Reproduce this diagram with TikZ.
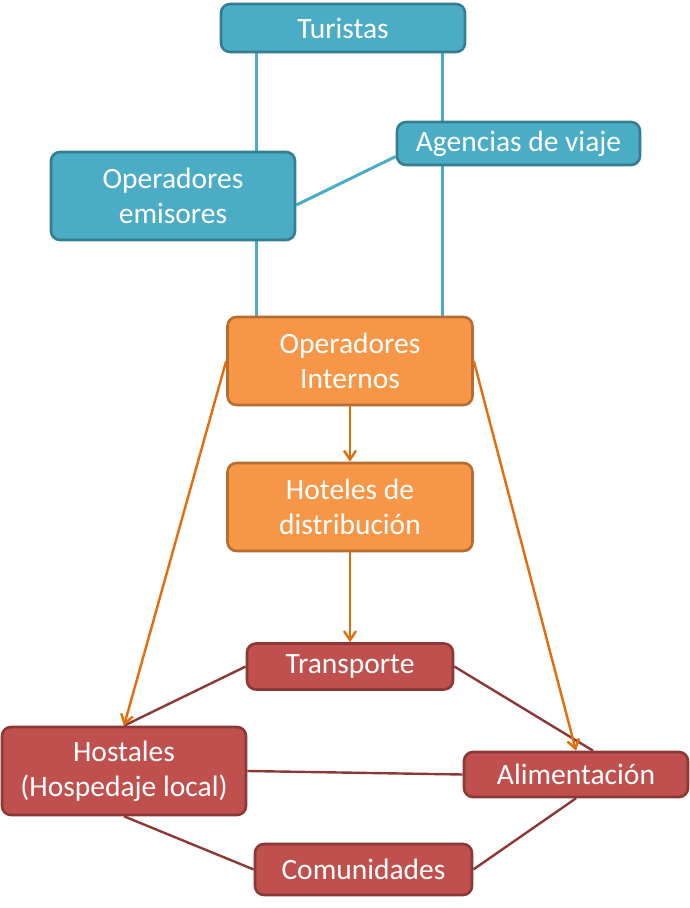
\documentclass[tikz,border=0pt]{standalone}
\usepackage{fontspec}
\setmainfont{Carlito}
\usetikzlibrary{arrows.meta,backgrounds,calc}
\definecolor{bfill}{HTML}{4BACC6}
\definecolor{bline}{HTML}{357D91}
\definecolor{ofill}{HTML}{F79646}
\definecolor{oline}{HTML}{B66D31}
\definecolor{rfill}{HTML}{C0504D}
\definecolor{rline}{HTML}{8C3836}
\definecolor{oarrow}{HTML}{E46C0A}
\definecolor{rconn}{HTML}{8C3836}
\tikzset{
  box/.style={rounded corners=9pt, line width=2.6pt, inner sep=0pt, align=center,
    text=white, font=\fontsize{29.5}{35}\selectfont},
  bluebox/.style={box, fill=bfill, draw=bline},
  orangebox/.style={box, fill=ofill, draw=oline},
  redbox/.style={box, fill=rfill, draw=rline},
  bconn/.style={draw=bfill, line width=3pt},
  oconn/.style={draw=oarrow, line width=2.4pt, -{Straight Barb[length=9pt,width=12pt,line width=2.4pt]}},
  rconnst/.style={draw=rconn, line width=2.4pt},
}
\begin{document}
\begin{tikzpicture}[x=1pt,y=-1pt]
\useasboundingbox (0,0) rectangle (689,908);
\node[bluebox, minimum width=244pt, minimum height=48pt] (turistas) at (343,28) {Turistas};
\node[bluebox, minimum width=243pt, minimum height=43pt] (agencias) at (518.5,143.5) {Agencias de viaje};
\node[bluebox, minimum width=244pt, minimum height=88pt] (emisores) at (173,196) {Operadores\\emisores};
\node[orangebox, minimum width=245pt, minimum height=88pt] (internos) at (350,361) {Operadores\\Internos};
\node[orangebox, minimum width=245pt, minimum height=88pt] (hoteles) at (350,507) {Hoteles de\\distribución};
\node[redbox, minimum width=206pt, minimum height=46pt] (transporte) at (350,666.5) {Transporte};
\node[redbox, minimum width=244pt, minimum height=88pt] (hostales) at (124,771) {Hostales\\(Hospedaje local)};
\node[redbox, minimum width=224pt, minimum height=45pt] (alim) at (576,774.5) {Alimentación};
\node[redbox, minimum width=217pt, minimum height=51pt] (comun) at (363.5,869.5) {Comunidades};
\coordinate (lx) at (256,0);
\coordinate (rx) at (442,0);
\begin{scope}[on background layer]
  \draw[bconn] (turistas.south -| lx) -- (internos.north -| lx);
  \draw[bconn] (turistas.south -| rx) -- (internos.north -| rx);
  \draw[bconn] ($(emisores.east)+(0,9)$) -- ($(agencias.west)+(0,13)$);
  \draw[rconnst] (transporte.west) -- (hostales.north);
  \draw[rconnst] (transporte.east) -- ($(alim.north)+(17,0)$);
  \draw[rconnst] (hostales.east) -- (alim.west);
  \draw[rconnst] (hostales.south) -- (comun.west);
  \draw[rconnst] (alim.south) -- (comun.east);
\end{scope}
\draw[oconn] (internos.south) -- (hoteles.north);
\draw[oconn] (hoteles.south) -- (transporte.north);
\draw[oconn] (internos.west) -- (hostales.north);
\draw[oconn] (internos.east) -- (alim.north);
\end{tikzpicture}
\end{document}
